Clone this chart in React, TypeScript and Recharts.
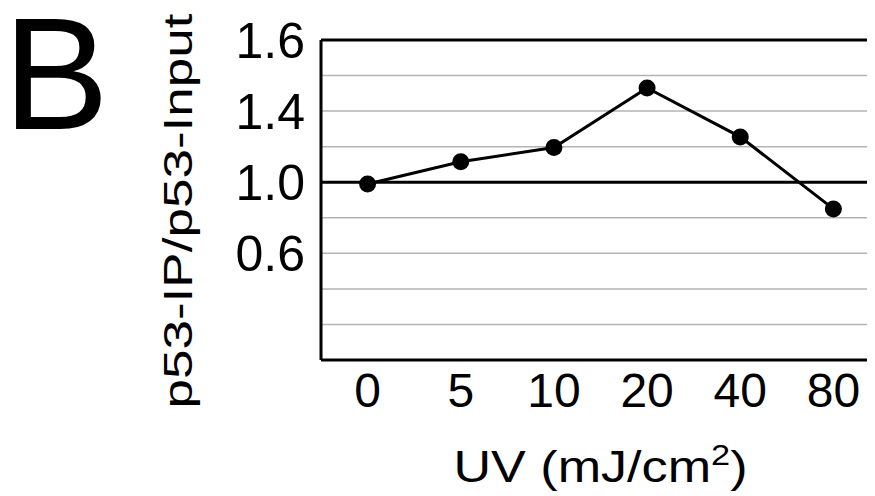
import { LineChart, Line, XAxis, YAxis, CartesianGrid, ReferenceLine, Label } from "recharts";

const doses = ["0", "5", "10", "20", "40", "80"];
const ratio = [0.99, 1.115, 1.195, 1.53, 1.255, 0.85];

// tick positions on the plotted scale and the labels printed at them
const yTickValues = [0.6, 1.0, 1.4, 1.8];
const yTickLabels = ["0.6", "1.0", "1.4", "1.6"];
const gridValues = [0.2, 0.4, 0.6, 0.8, 1.0, 1.2, 1.4, 1.6, 1.8];

const data = doses.map((d, i) => ({ dose: d, ratio: ratio[i] }));

const FONT = "'Liberation Sans', Arial, sans-serif";

const yLabel = (props: any) => {
  const vb = props.viewBox;
  const x = vb.x + vb.width - 129;
  const y = vb.y + vb.height / 2 + 11;
  return (
    <text
      x={x}
      y={y}
      transform={`rotate(-90 ${x} ${y})`}
      textAnchor="middle"
      fontFamily={FONT}
      fontSize={40}
      textLength={395}
      lengthAdjust="spacingAndGlyphs"
      fill="#000"
    >
      p53-IP/p53-Input
    </text>
  );
};

const xLabel = (props: any) => {
  const vb = props.viewBox;
  return (
    <text
      x={vb.x + vb.width / 2}
      y={vb.y + 122}
      textAnchor="middle"
      fontFamily={FONT}
      fontSize={44}
      textLength={294}
      lengthAdjust="spacingAndGlyphs"
      fill="#000"
    >
      UV (mJ/cm<tspan fontSize={29} dy={-17}>2</tspan>
      <tspan dy={17}>)</tspan>
    </text>
  );
};

export default function App() {
  return (
    <div style={{ position: "relative", width: 867, height: 488, overflow: "hidden", background: "#fff" }}>
      <svg width={140} height={150} style={{ position: "absolute", left: 0, top: 0 }}>
        <text x={-5} y={121} fontFamily={FONT} fontSize={159} fill="#000">
          B
        </text>
      </svg>
      <LineChart width={872} height={488} data={data} margin={{ top: 32, right: 0, bottom: 0, left: 0 }}>
        <CartesianGrid horizontal vertical={false} horizontalValues={gridValues} stroke="#b3b3b3" strokeWidth={1.5} />
        <ReferenceLine y={1.0} stroke="#000" strokeWidth={3} ifOverflow="visible" />
        <ReferenceLine y={1.8} stroke="#000" strokeWidth={3} ifOverflow="visible" />
        <XAxis
          dataKey="dose"
          height={136}
          padding={{ left: 46.6, right: 46.6 }}
          tickLine={false}
          tickSize={0}
          tickMargin={13}
          axisLine={{ stroke: "#000", strokeWidth: 3 }}
          tick={{ fill: "#000", fontSize: 48, fontFamily: FONT }}
          interval={0}
        >
          <Label content={xLabel} />
        </XAxis>
        <YAxis
          width={313}
          domain={[0, 1.8]}
          ticks={yTickValues}
          tickFormatter={(v: number) => yTickLabels[yTickValues.indexOf(v)]}
          tickLine={false}
          tickSize={0}
          tickMargin={16}
          axisLine={{ stroke: "#000", strokeWidth: 3 }}
          tick={{ fill: "#000", fontSize: 50, fontFamily: FONT }}
          interval={0}
        >
          <Label content={yLabel} />
        </YAxis>
        <Line
          type="linear"
          dataKey="ratio"
          stroke="#000"
          strokeWidth={3}
          dot={{ r: 8.5, fill: "#000", stroke: "#000", strokeWidth: 0 }}
          activeDot={false}
          isAnimationActive={false}
        />
      </LineChart>
    </div>
  );
}
